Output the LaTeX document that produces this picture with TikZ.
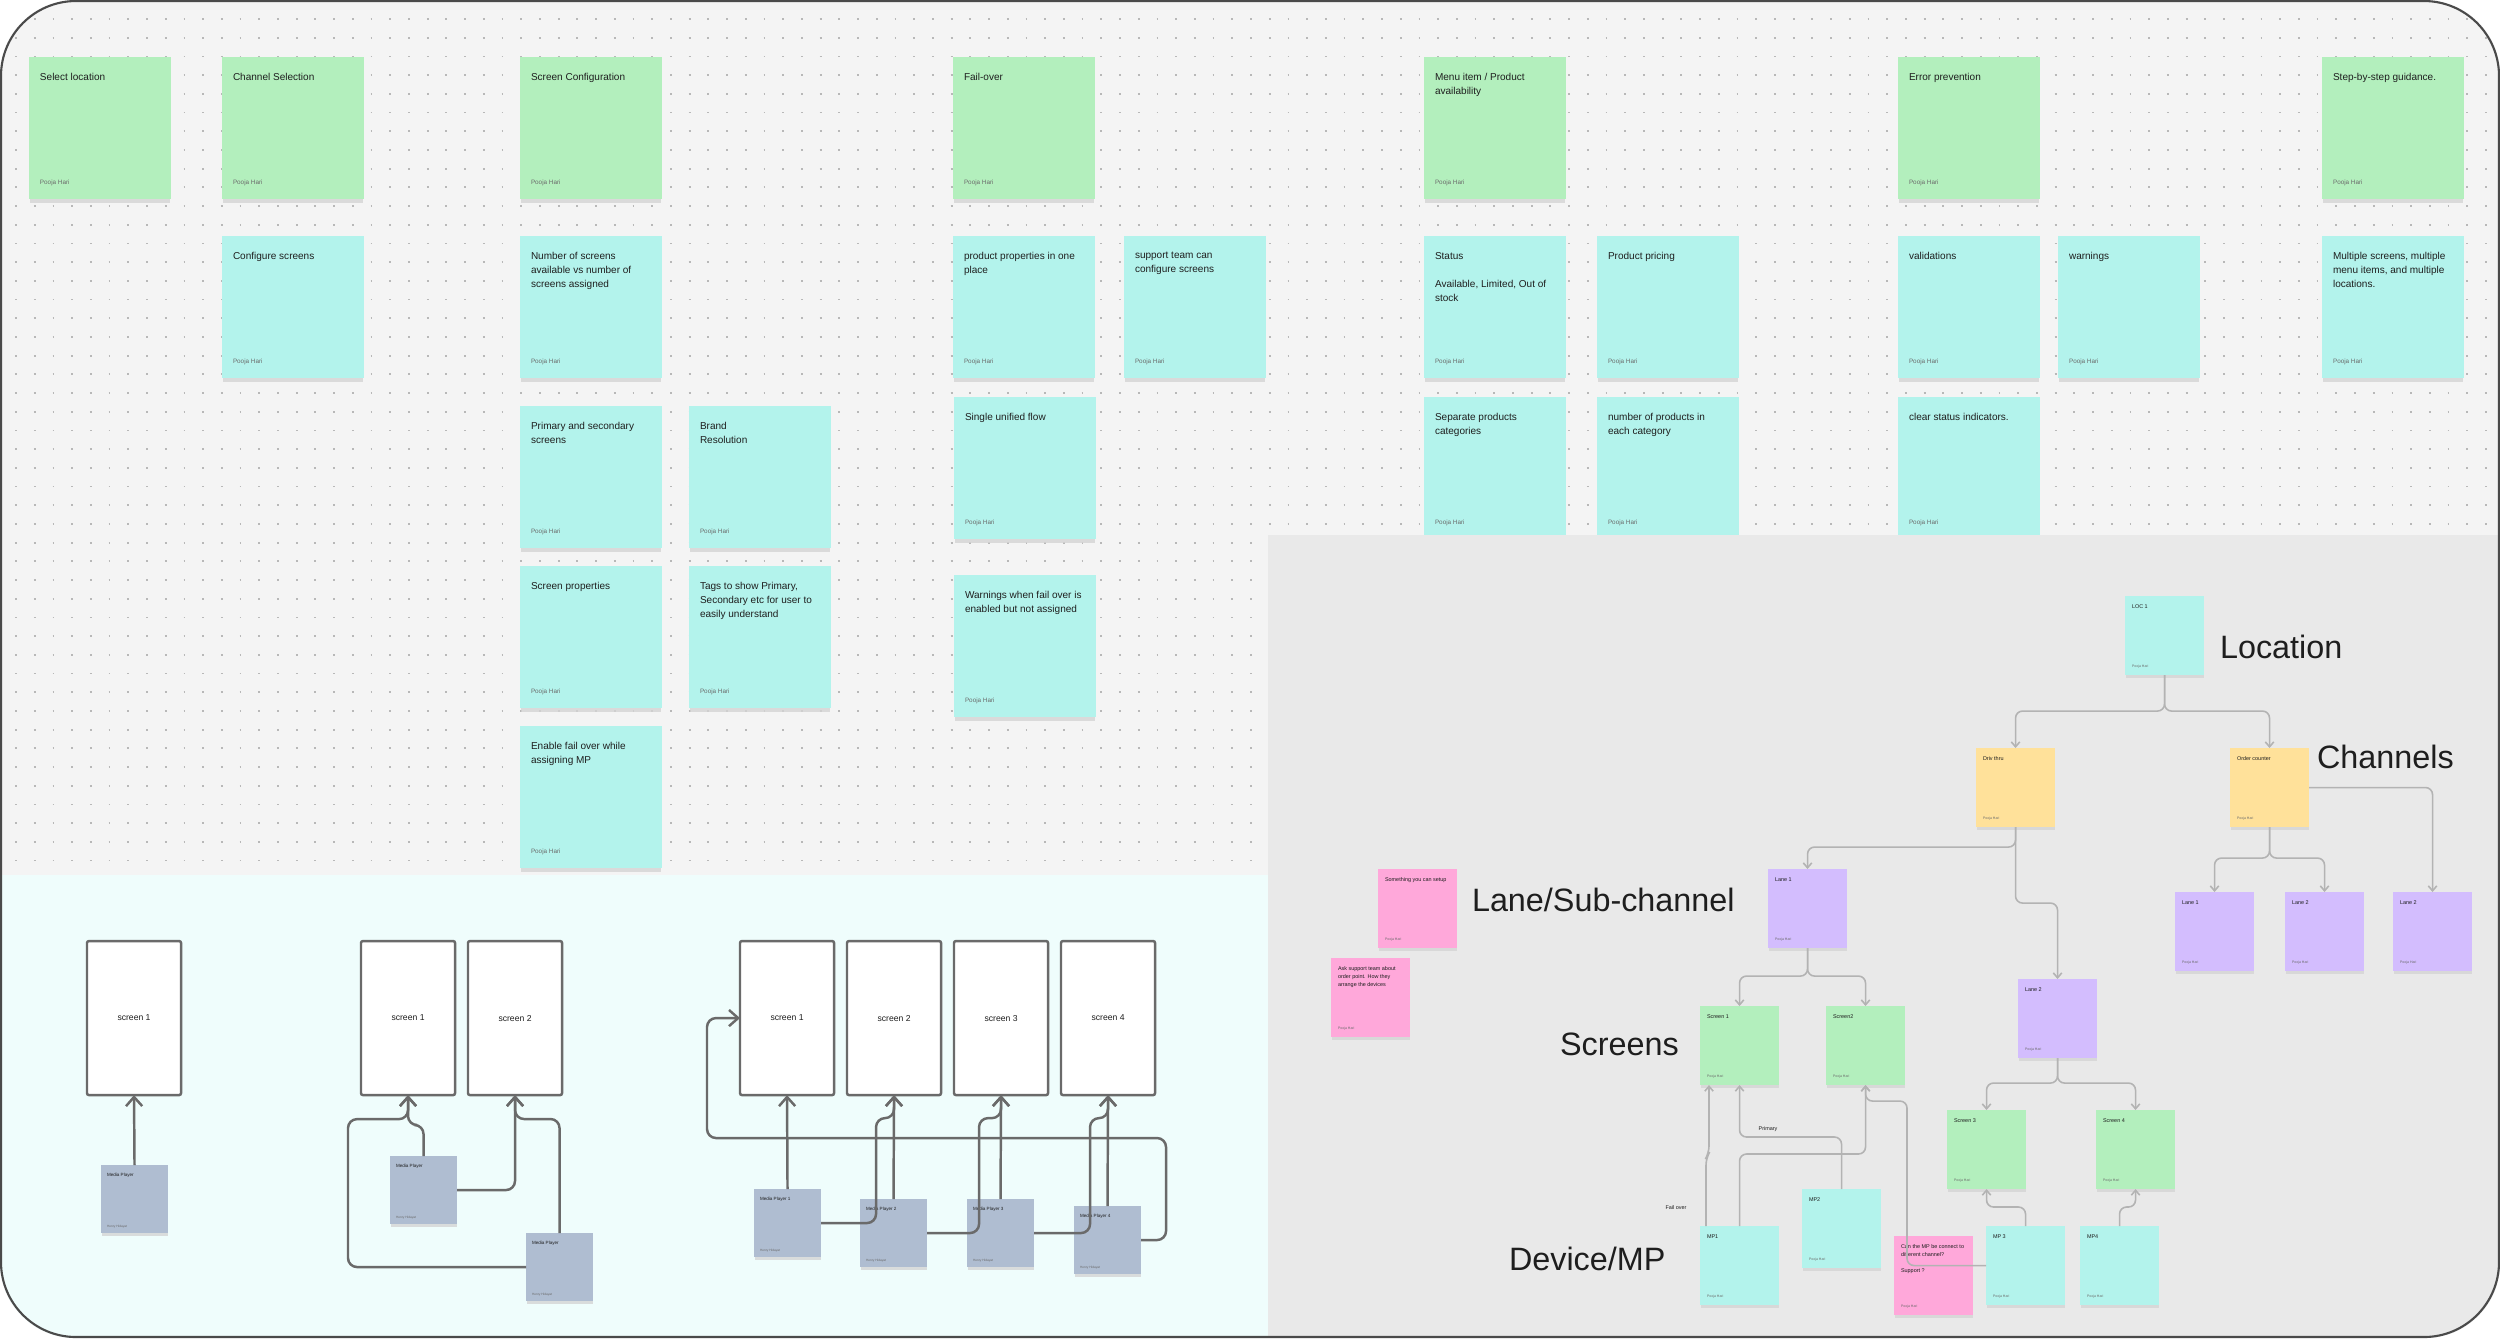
\documentclass[tikz,border=0pt]{standalone}
\usepackage{fontspec}
\setmainfont{Liberation Sans}
\usetikzlibrary{arrows.meta,calc}
\definecolor{bgtop}{HTML}{F4F4F4}
\definecolor{bggrey}{HTML}{E9E9E9}
\definecolor{bgcyan}{HTML}{EFFDFC}
\definecolor{stgreen}{HTML}{B3EFBD}
\definecolor{stcyan}{HTML}{B3F3EC}
\definecolor{styellow}{HTML}{FFE19A}
\definecolor{stpurple}{HTML}{D3BDFE}
\definecolor{stpink}{HTML}{FFA8DA}
\definecolor{stmp}{HTML}{AFBDD1}
\definecolor{txt}{HTML}{1E1E1E}
\definecolor{auth}{HTML}{6B6B6B}
\definecolor{lconn}{HTML}{B3B3B3}
\definecolor{dconn}{HTML}{6A6A6A}
\definecolor{framec}{HTML}{4A4A4A}
\definecolor{dotc}{HTML}{B8B8B8}
\definecolor{shc}{HTML}{D4D4D4}
\tikzset{
  every node/.style={inner sep=0pt, outer sep=0pt},
  note/.style={draw=none, anchor=north west},
  bigbox/.style={note, minimum width=1.42cm, minimum height=1.42cm},
  smbox/.style={note, minimum width=0.79cm, minimum height=0.79cm},
  mpbox/.style={note, minimum width=0.67cm, minimum height=0.68cm, fill=stmp},
  shadowbox/.style={fill=shc, opacity=0.8},
  bigtitle/.style={anchor=north west, align=left, text=txt, font=\fontsize{2.85pt}{4pt}\selectfont},
  bigauth/.style={anchor=base west, text=auth, font=\fontsize{1.8pt}{2pt}\selectfont},
  smtitle/.style={anchor=north west, align=left, text=txt, font=\fontsize{1.55pt}{2.27pt}\selectfont},
  smauth/.style={anchor=base west, text=auth, font=\fontsize{1pt}{1.2pt}\selectfont},
  mptitle/.style={anchor=north west, align=left, text=txt, font=\fontsize{1.3pt}{1.8pt}\selectfont},
  mpauth/.style={anchor=base west, text=auth, font=\fontsize{0.9pt}{1.1pt}\selectfont},
  scr/.style={draw=dconn, line width=0.7pt, fill=white, rounded corners=0.02cm,
    minimum width=0.94cm, minimum height=1.54cm, anchor=north west,
    font=\fontsize{2.45pt}{3pt}\selectfont, text=txt},
  biglbl/.style={anchor=base west, text=txt, font=\fontsize{9.2pt}{11pt}\selectfont},
  lbl/.style={text=txt, font=\fontsize{1.55pt}{2pt}\selectfont},
  dotrow/.style={draw=dotc, line width=0.018cm, dash pattern=on 0.018cm off 0.169cm},
  lc/.style={draw=lconn, line width=0.45pt, rounded corners=0.07cm,
    -{Straight Barb[length=1.4pt,width=2.4pt]}},
  dc/.style={draw=dconn, line width=0.7pt, rounded corners=0.09cm,
    -{Straight Barb[length=2.6pt,width=4.6pt]}}
}
\newcommand\bigst[5]{%
  \fill[shadowbox] ({#3+1},{#4+4}) rectangle ++(140,142);
  \node[bigbox, fill=#2] (#1) at (#3,#4) {};
  \node[bigtitle] (#1-t) at ($(#1.north west)+(11,16)$) {#5};
  \node[bigauth] (#1-a) at ($(#1.south west)+(11,-15)$) {Pooja Hari};
}
\newcommand\smst[5]{%
  \fill[shadowbox] ({#3+1},{#4+2.5}) rectangle ++(78,79);
  \node[smbox, fill=#2] (#1) at (#3,#4) {};
  \node[smtitle] (#1-t) at ($(#1.north west)+(7,9)$) {#5};
  \node[smauth] (#1-a) at ($(#1.south west)+(7,-8)$) {Pooja Hari};
}
\newcommand\mpst[4]{%
  \fill[shadowbox] ({#2+1},{#3+2.5}) rectangle ++(66,68);
  \node[mpbox] (#1) at (#2,#3) {};
  \node[mptitle] (#1-t) at ($(#1.north west)+(6,8)$) {#4};
  \node[mpauth] (#1-a) at ($(#1.south west)+(6,-6)$) {Henry Hidayat};
}
\begin{document}
\begin{tikzpicture}[x=0.01cm, y=-0.01cm]
\useasboundingbox (0,0) rectangle (2500,1338);
\fill[white] (0,0) rectangle (2500,1338);
\begin{scope}
\clip[rounded corners=0.75cm] (0,0) rectangle (2500,1338);
\fill[bgtop] (0,0) rectangle (2500,1338);
\foreach \k in {0,...,27} \draw[dotrow] (15.1,{19+18.7*\k}) -- (2500,{19+18.7*\k});
\foreach \k in {28,...,45} \draw[dotrow] (15.1,{19+18.7*\k}) -- (1268,{19+18.7*\k});
% top stickies
\bigst{g1}{stgreen}{29}{57}{Select location}
\bigst{g2}{stgreen}{222}{57}{Channel Selection}
\bigst{g3}{stgreen}{520}{57}{Screen Configuration}
\bigst{g4}{stgreen}{953}{57}{Fail-over}
\bigst{g5}{stgreen}{1424}{57}{Menu item / Product\\availability}
\bigst{g6}{stgreen}{1898}{57}{Error prevention}
\bigst{g7}{stgreen}{2322}{57}{Step-by-step guidance.}
\bigst{c1}{stcyan}{222}{236}{Configure screens}
\bigst{c2}{stcyan}{520}{236}{Number of screens\\available vs number of\\screens assigned}
\bigst{c3}{stcyan}{953}{236}{product properties in one\\place}
\bigst{c4}{stcyan}{1124}{236}{support team can\\configure screens}
\bigst{c5}{stcyan}{1424}{236}{Status\\[4pt]Available, Limited, Out of\\stock}
\bigst{c6}{stcyan}{1597}{236}{Product pricing}
\bigst{c7}{stcyan}{1898}{236}{validations}
\bigst{c8}{stcyan}{2058}{236}{warnings}
\bigst{c9}{stcyan}{2322}{236}{Multiple screens, multiple\\menu items, and multiple\\locations.}
\bigst{c10}{stcyan}{520}{406}{Primary and secondary\\screens}
\bigst{c11}{stcyan}{689}{406}{Brand\\Resolution}
\bigst{c12}{stcyan}{954}{397}{Single unified flow}
\bigst{c13}{stcyan}{1424}{397}{Separate products\\categories}
\bigst{c14}{stcyan}{1597}{397}{number of products in\\each category}
\bigst{c15}{stcyan}{1898}{397}{clear status indicators.}
\bigst{c16}{stcyan}{520}{566}{Screen properties}
\bigst{c17}{stcyan}{689}{566}{Tags to show Primary,\\Secondary etc for user to\\easily understand}
\bigst{c18}{stcyan}{954}{575}{Warnings when fail over is\\enabled but not assigned}
\bigst{c19}{stcyan}{520}{726}{Enable fail over while\\assigning MP}
% panels
\fill[bggrey] (1268,535) rectangle (2500,1338);
\fill[bgcyan] (0,875) rectangle (1268,1338);
% right panel stickies
\smst{loc}{stcyan}{2125}{596}{LOC 1}
\smst{drv}{styellow}{1976}{748}{Driv thru}
\smst{oc}{styellow}{2230}{748}{Order counter}
\smst{rl1}{stpurple}{2175}{892}{Lane 1}
\smst{rl2}{stpurple}{2285}{892}{Lane 2}
\smst{rl3}{stpurple}{2393}{892}{Lane 2}
\smst{ln1}{stpurple}{1768}{869}{Lane 1}
\smst{ln2}{stpurple}{2018}{979}{Lane 2}
\smst{s1}{stgreen}{1700}{1006}{Screen 1}
\smst{s2}{stgreen}{1826}{1006}{Screen2}
\smst{s3}{stgreen}{1947}{1110}{Screen 3}
\smst{s4}{stgreen}{2096}{1110}{Screen 4}
\smst{mp1}{stcyan}{1700}{1226}{MP1}
\smst{mp2}{stcyan}{1802}{1189}{MP2}
\smst{q}{stpink}{1894}{1236}{Can the MP be connect to\\different channel?\\[2.27pt]Support ?}
\smst{mp3}{stcyan}{1986}{1226}{MP 3}
\smst{mp4}{stcyan}{2080}{1226}{MP4}
\smst{p1}{stpink}{1378}{869}{Something you can setup}
\smst{p2}{stpink}{1331}{958}{Ask support team about\\order point. How they\\arrange the devices}
% big labels
\node[biglbl] (tloc) at (2220,658) {Location};
\node[biglbl] (tch) at (2317,768) {Channels};
\node[biglbl] (tlane) at (1472,911) {Lane/Sub-channel};
\node[biglbl] (tscr) at (1560,1055) {Screens};
\node[biglbl] (tdev) at (1509,1270) {Device/MP};
% right connectors
\draw[lc] (loc.south) -- ++(0,36) -| (drv.north);
\draw[lc] (loc.south) -- ++(0,36) -| (oc.north);
\draw[lc] (drv.south) -- ++(0,20) -| (ln1.north);
\draw[lc] (drv.south) -- ++(0,76) -| (ln2.north);
\draw[lc] (oc.south) -- ++(0,31) -| (rl1.north);
\draw[lc] (oc.south) -- ++(0,31) -| (rl2.north);
\draw[lc] (oc.east) -| (rl3.north);
\draw[lc] (ln1.south) -- ++(0,28) -| (s1.north);
\draw[lc] (ln1.south) -- ++(0,28) -| (s2.north);
\draw[lc] (ln2.south) -- ++(0,25) -| (s3.north);
\draw[lc] (ln2.south) -- ++(0,25) -| (s4.north);
\draw[lc] ($(mp1.north west)+(6,0)$) -- ++(0,-68) -- ++(3,-5) -- ($(s1.south west)+(9,0)$);
\draw[lc] (mp1.north) -- ++(0,-72) -| (s2.south);
\draw[lc] (mp2.north) -- ++(0,-52) -| (s1.south);
\draw[lc] (mp3.west) -- ++(-79,0) |- ($(s2.south)+(0,16)$) -- (s2.south);
\draw[lc] (mp3.north) -- ++(0,-19) -| (s3.south);
\draw[lc] (mp4.north) -- ++(0,-19) -| (s4.south);
\node[lbl] (lfo) at (1676,1208) {Fail over};
\node[lbl] (lpr) at (1768,1129) {Primary};
% bottom-left screens
\node[scr] (sA) at (87,941) {screen 1};
\node[scr] (sB1) at (361,941) {screen 1};
\node[scr] (sB2) at (468,941) {screen 2};
\node[scr] (sC1) at (740,941) {screen 1};
\node[scr] (sC2) at (847,941) {screen 2};
\node[scr] (sC3) at (954,941) {screen 3};
\node[scr] (sC4) at (1061,941) {screen 4};
\mpst{mA}{101}{1165}{Media Player}
\mpst{mBa}{390}{1156}{Media Player}
\mpst{mBb}{526}{1233}{Media Player}
\mpst{m1}{754}{1189}{Media Player 1}
\mpst{m2}{860}{1199}{Media Player 2}
\mpst{m3}{967}{1199}{Media Player 3}
\mpst{m4}{1074}{1206}{Media Player 4}
\draw[dc] (mA.north) -- (sA.south);
\draw[dc] (mBa.north) -- ++(0,-31) -| (sB1.south);
\draw[dc] (mBa.east) -| (sB2.south);
\draw[dc] (mBb.north) -- ++(0,-114) -| (sB2.south);
\draw[dc] (mBb.west) -- ++(-178,0) |- ($(sB1.south)+(0,24)$) -- (sB1.south);
\draw[dc] (m1.north) -- (sC1.south);
\draw[dc] (m1.east) -- ++(55,0) |- ($(sC2.south)+(0,23)$) -- (sC2.south);
\draw[dc] (m2.north) -- (sC2.south);
\draw[dc] (m2.east) -- ++(52,0) |- ($(sC3.south)+(0,23)$) -- (sC3.south);
\draw[dc] (m3.north) -- (sC3.south);
\draw[dc] (m3.east) -- ++(56,0) |- ($(sC4.south)+(0,23)$) -- (sC4.south);
\draw[dc] (m4.north) -- (sC4.south);
\draw[dc] (m4.east) -- ++(25,0) -- ++(0,-102) -| ($(sC1.west)+(-33,0)$) -- (sC1.west);
\end{scope}
\draw[framec, line width=0.6pt, rounded corners=0.75cm] (1,1) rectangle (2499,1337);
\end{tikzpicture}
\end{document}
